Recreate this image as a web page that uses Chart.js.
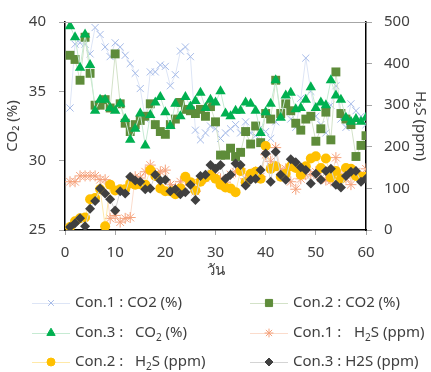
<!DOCTYPE html>
<html lang="th">
<head>
<meta charset="UTF-8">
<title>CO2 / H2S</title>
<script src="https://cdn.jsdelivr.net/npm/chart.js@4.4.0/dist/chart.umd.min.js"></script>
<style>
  html, body { margin: 0; padding: 0; background: #fff; }
  #wrap { width: 431px; height: 372px; }
</style>
</head>
<body>
<div id="wrap"><canvas id="canvas"></canvas></div>
<script>
// days
const days = [1,2,3,4,5,6,7,8,9,10,11,12,13,14,15,16,17,18,19,20,21,22,23,24,25,26,27,28,29,30,
              31,32,33,34,35,36,37,38,39,40,41,42,43,44,45,46,47,48,49,50,51,52,53,54,55,56,57,58,59,60];

// CO2 (%) - left axis
const con1CO2 = [33.8,38.4,38.5,38.4,37.7,39.6,39.1,38.2,37.5,38.5,38.2,37.6,37.0,36.3,35.2,33.0,36.4,36.4,36.9,36.8,
                 35.4,36.2,37.9,38.2,37.5,32.2,31.5,32.0,32.5,32.3,31.6,32.0,32.3,32.6,32.0,32.8,32.0,31.8,32.4,32.1,
                 31.6,32.8,33.4,34.0,33.0,32.4,34.5,37.4,35.0,33.2,32.6,32.0,34.0,35.4,33.0,32.4,34.1,33.6,33.2,32.6];
const con2CO2 = [37.6,37.3,35.8,38.9,36.3,34.0,34.0,34.4,33.8,37.7,34.1,32.7,32.1,32.6,32.9,33.2,34.1,32.6,32.1,31.9,
                 32.6,33.0,34.2,33.7,33.6,33.4,33.7,33.2,33.9,32.8,30.4,30.4,30.9,30.3,30.6,32.1,31.2,32.5,31.3,33.4,
                 33.0,35.8,33.4,34.1,33.6,32.7,32.2,33.0,33.2,31.4,32.3,33.5,31.5,36.4,33.4,33.0,32.6,30.3,31.1,31.8];
const con3CO2 = [39.7,38.9,36.7,39.1,36.9,33.6,34.4,34.4,33.8,33.6,34.1,33.0,31.5,32.3,33.4,31.1,33.3,34.2,34.6,33.5,
                 32.5,34.1,33.2,34.6,33.9,34.3,34.9,33.8,34.4,34.2,35.0,33.4,33.2,33.6,33.6,34.2,34.1,33.6,32.0,33.5,
                 34.1,35.8,33.1,34.7,34.9,33.7,33.8,34.4,35.3,33.8,34.2,34.0,35.8,34.7,34.4,33.1,32.8,33.0,32.8,33.1];

// H2S (ppm) - right axis
const con1H2S = [116,116,130,130,130,130,121,121,28,35,19,28,30,128,125,140,156,135,140,144,
                 109,100,116,120,112,93,121,125,135,130,123,115,133,140,147,123,130,140,128,181,
                 165,198,145,147,116,98,123,133,133,140,125,120,118,174,133,125,109,140,128,147];
const con2H2S = [7,21,28,30,74,77,98,9,109,95,98,98,112,109,110,109,144,130,100,93,
                 93,86,100,128,115,95,116,126,133,123,109,102,100,91,142,115,135,140,123,202,
                 147,153,128,135,153,149,133,153,172,177,149,172,126,142,123,149,147,130,128,128];
const con3H2S = [7,16,28,9,51,70,100,88,74,47,93,88,128,119,116,98,100,133,119,121,
                 93,98,86,91,109,72,130,133,156,147,156,123,133,160,156,107,121,123,144,184,
                 116,188,133,121,170,163,151,144,112,135,121,142,147,109,102,130,140,142,116,123];

const xTicks = [0,10,20,30,40,50,60];
const co2Ticks = [25,30,35,40];
const h2sTicks = [0,100,200,300,400,500];

const FONT = "'Noto Sans', 'DejaVu Sans', sans-serif";
const TXT = '#404040';

function pts(ys) {
  return days.map((d, i) => ({ x: d, y: ys[i] }));
}

// legend text pieces: [text, isSubscript, xOffset]
const series = [
  { label: [['Con.1 : CO2 (%)']], data: con1CO2, axis: 'y', style: 'crossRot', r: 5, c: '#a6bbe8', line: '#dde5f6' },
  { label: [['Con.2 : CO2 (%)']], data: con2CO2, axis: 'y', style: 'rect', r: 6.3, c: '#5e8c3a', line: '#d3e2c8' },
  { label: [['Con.3 :'], ['CO', 0, 60], ['2', 1], [' (%)']], data: con3CO2, axis: 'y', style: 'triangle', r: 6, c: '#00b050', line: '#c6ebd3' },
  { label: [['Con.1 :'], ['H', 0, 61], ['2', 1], ['S (ppm)']], data: con1H2S, axis: 'y2', style: 'star', r: 5.5, c: '#f5a27c', line: '#fbdccc' },
  { label: [['Con.2 :'], ['H', 0, 60], ['2', 1], ['S (ppm)']], data: con2H2S, axis: 'y2', style: 'circle', r: 5, c: '#ffc000', line: '#ffe9a8' },
  { label: [['Con.3 : H2S (ppm)']], data: con3H2S, axis: 'y2', style: 'rectRot', r: 5, c: '#404040', line: '#d4d4d4' }
];

const datasets = series.map((s, i) => ({
  data: pts(s.data),
  yAxisID: s.axis,
  showLine: true,
  borderColor: s.line,
  borderWidth: 1,
  pointStyle: s.style,
  pointRadius: s.r,
  pointBackgroundColor: s.c,
  pointBorderColor: s.c,
  pointBorderWidth: s.style === 'crossRot' || s.style === 'star' ? 1 : 0,
  order: 6 - i,
  tension: 0
}));

const frame = {
  id: 'frame',
  afterDatasetsDraw(chart) {
    const { ctx, chartArea: a } = chart;
    ctx.save();
    ctx.strokeStyle = '#a6a6a6';
    ctx.lineWidth = 1;
    ctx.beginPath();
    ctx.moveTo(a.left - 6, a.top + 0.5);
    ctx.lineTo(a.right, a.top + 0.5);
    ctx.stroke();
    ctx.restore();
  }
};

const legend = {
  id: 'myLegend',
  afterDraw(chart) {
    const ctx = chart.ctx;
    const cols = [32, 250];
    const rows = [303, 333, 362];
    ctx.save();
    series.forEach((s, i) => {
      const x0 = cols[i % 2];
      const y = rows[Math.floor(i / 2)];
      ctx.strokeStyle = s.line;
      ctx.lineWidth = 1;
      ctx.beginPath();
      ctx.moveTo(x0, y + 0.5);
      ctx.lineTo(x0 + 38, y + 0.5);
      ctx.stroke();
      ctx.fillStyle = s.c;
      ctx.strokeStyle = s.c;
      ctx.lineWidth = (s.style === 'crossRot' || s.style === 'star') ? 1 : 0;
      Chart.helpers.drawPoint(ctx, { pointStyle: s.style, radius: s.r * 0.8, borderWidth: ctx.lineWidth, rotation: 0 }, x0 + 19, y);
      let tx = x0 + 43;
      const start = tx;
      ctx.fillStyle = TXT;
      ctx.textBaseline = 'middle';
      s.label.forEach(p => {
        if (p[2] !== undefined) tx = start + p[2];
        ctx.font = (p[1] ? '10px ' : '15px ') + FONT;
        ctx.fillText(p[0], tx, p[1] ? y + 5 : y);
        tx += ctx.measureText(p[0]).width;
      });
    });
    ctx.restore();
  }
};

new Chart(document.getElementById('canvas'), {
  type: 'line',
  data: { datasets: datasets },
  options: {
    responsive: true,
    maintainAspectRatio: false,
    animation: false,
    layout: { padding: { top: 16, bottom: 92, left: 0, right: 0 } },
    plugins: { legend: { display: false }, tooltip: { enabled: false } },
    scales: {
      x: {
        type: 'linear', min: 0, max: 60,
        afterBuildTicks: s => { s.ticks = xTicks.map(v => ({ value: v })); },
        afterFit: s => { s.height = 50; },
        ticks: { color: TXT, font: { family: FONT, size: 15 }, padding: 9 },
        grid: { drawOnChartArea: false, drawTicks: true, tickLength: 5, color: '#a6a6a6' },
        border: { color: '#000', width: 1.5 },
        title: { display: true, text: 'วัน', color: TXT, font: { family: FONT, size: 15 }, padding: 0 }
      },
      y: {
        position: 'left', min: 25, max: 40,
        afterBuildTicks: s => { s.ticks = co2Ticks.map(v => ({ value: v })); },
        afterFit: s => { s.width = 65; },
        ticks: { color: TXT, font: { family: FONT, size: 15 }, padding: 13 },
        grid: { drawOnChartArea: false, drawTicks: true, tickLength: 6, color: '#a6a6a6' },
        border: { color: '#000', width: 1.5 },
        title: { display: true, text: 'CO₂ (%)', color: TXT, font: { family: FONT, size: 15 }, padding: { top: 4, bottom: 0 } }
      },
      y2: {
        position: 'right', min: 0, max: 500,
        afterBuildTicks: s => { s.ticks = h2sTicks.map(v => ({ value: v })); },
        afterFit: s => { s.width = 65; },
        ticks: { color: TXT, font: { family: FONT, size: 15 }, padding: 12 },
        grid: { drawOnChartArea: false, drawTicks: true, tickLength: 6, color: '#a6a6a6' },
        border: { color: '#000', width: 1.5 },
        title: { display: true, text: 'H₂S (ppm)', color: TXT, font: { family: FONT, size: 15 }, padding: { top: 2, bottom: 0 } }
      }
    }
  },
  plugins: [frame, legend]
});
</script>
</body>
</html>
